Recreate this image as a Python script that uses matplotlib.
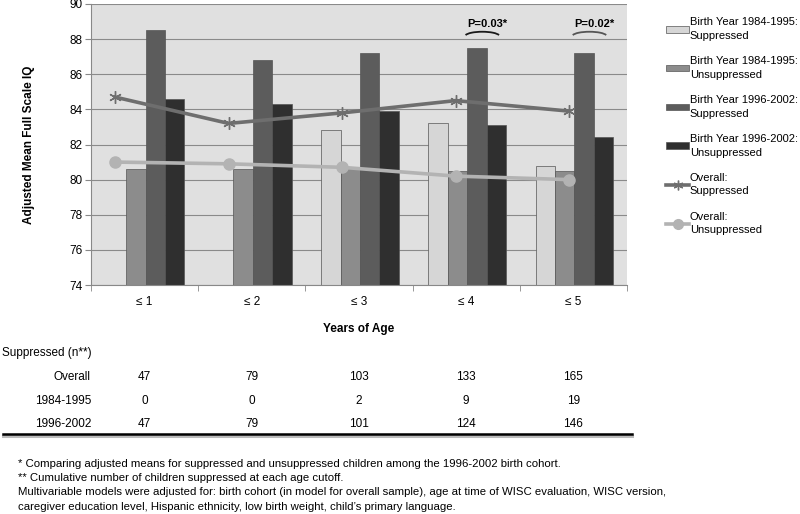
import numpy as np
import matplotlib.pyplot as plt
from matplotlib.patches import Arc, Patch
from matplotlib.lines import Line2D
import matplotlib.transforms as mtransforms

# Data
ages = ['≤ 1', '≤ 2', '≤ 3', '≤ 4', '≤ 5']
by8495_supp = [np.nan, np.nan, 82.8, 83.2, 80.8]
by8495_unsupp = [80.6, 80.6, 80.7, 80.5, 80.5]
by9602_supp = [88.5, 86.8, 87.2, 87.5, 87.2]
by9602_unsupp = [84.6, 84.3, 83.9, 83.1, 82.4]
overall_supp = [84.7, 83.2, 83.8, 84.5, 83.9]
overall_unsupp = [81.0, 80.9, 80.7, 80.2, 80.0]

p_labels = ['', '', '', 'P=0.03*', 'P=0.02*']
p_arc_colors = ['', '', '', '#1a1a1a', '#555555']

table_rows = ['Overall', '1984-1995', '1996-2002']
n_overall = [47, 79, 103, 133, 165]
n_8495 = [0, 0, 2, 9, 19]
n_9602 = [47, 79, 101, 124, 146]

footnotes = [
    '* Comparing adjusted means for suppressed and unsuppressed children among the 1996-2002 birth cohort.',
    '** Cumulative number of children suppressed at each age cutoff.',
    'Multivariable models were adjusted for: birth cohort (in model for overall sample), age at time of WISC evaluation, WISC version,',
    'caregiver education level, Hispanic ethnicity, low birth weight, child\u2019s primary language.',
]

plt.rcParams['font.family'] = ['Liberation Sans', 'DejaVu Sans']

W, H = 800, 514
fig = plt.figure(figsize=(8, 5.14), dpi=100)
ax = fig.add_axes([91 / W, 1 - 285 / H, 536 / W, 281 / H])
ax.set_facecolor('#e0e0e0')

x = np.arange(len(ages))
w = 0.181
bar_colors = ['#d6d6d6', '#8c8c8c', '#5c5c5c', '#2f2f2f']
series = [by8495_supp, by8495_unsupp, by9602_supp, by9602_unsupp]
for k, (vals, col) in enumerate(zip(series, bar_colors)):
    ax.bar(x + (k - 1.5) * w + 0.01, np.array(vals) - 74, bottom=74, width=w,
           color=col, edgecolor='#555555', linewidth=0.5, zorder=2)

# lines sit on their own horizontal scale, as in the original
line_x = -0.275 + 1.059 * x
ax.plot(line_x, overall_supp, color='#6e6e6e', lw=2.6, marker=(6, 2, 0),
        ms=9, mew=1.0, zorder=3)
ax.plot(line_x, overall_unsupp, color='#b3b3b3', lw=2.6, marker='o',
        ms=8, zorder=3)

# p-values with little brackets
for i, lab in enumerate(p_labels):
    if lab:
        ax.text(x[i] + 0.2, 88.88, lab, ha='center', va='center',
                fontsize=8, fontweight='bold', zorder=4)
        ax.add_patch(Arc((x[i] + 0.15, 88.17), 0.32, 0.5, theta1=20, theta2=160,
                         color=p_arc_colors[i], lw=1.3, zorder=4))

ax.set_ylim(74, 90)
ax.set_xlim(-0.5, 4.5)
ax.set_yticks(np.arange(74, 91, 2))
ax.yaxis.grid(True, color='#8a8a8a', lw=0.8, zorder=0)
ax.set_axisbelow(True)
ax.set_xticks(x)
ax.set_xticklabels(ages, fontsize=8.5)
ax.set_xticks(np.arange(-0.5, 5, 1), minor=True)
ax.tick_params(axis='x', which='major', length=0, pad=8)
ax.tick_params(axis='x', which='minor', length=4, color='#888888')
ax.tick_params(axis='y', length=4, color='#888888', labelsize=8.5, pad=2)
for s in ['top', 'right']:
    ax.spines[s].set_visible(False)
for s in ['left', 'bottom']:
    ax.spines[s].set_color('#888888')
ax.set_ylabel('Adjusted Mean Full Scale IQ', fontsize=8.5, fontweight='bold', labelpad=25)
ax.set_xlabel('Years of Age', fontsize=8.5, fontweight='bold', labelpad=11)

# legend
handles = [Patch(facecolor=c, edgecolor='#555555', lw=0.5) for c in bar_colors]
handles += [Line2D([], [], color='#6e6e6e', lw=2.6, marker=(6, 2, 0), ms=7, mew=1.0),
            Line2D([], [], color='#b3b3b3', lw=2.6, marker='o', ms=7)]
labels = ['Birth Year 1984-1995:\nSuppressed', 'Birth Year 1984-1995:\nUnsuppressed',
          'Birth Year 1996-2002:\nSuppressed', 'Birth Year 1996-2002:\nUnsuppressed',
          'Overall:\nSuppressed', 'Overall:\nUnsuppressed']
leg = fig.legend(handles, labels, loc='upper left', bbox_to_anchor=(662 / W, 1 - 13 / H),
                 frameon=False, fontsize=8, handlelength=2.0, handleheight=0.55,
                 handletextpad=0.1, labelspacing=1.37, borderaxespad=0)
for t in leg.get_texts():
    t.set_linespacing(1.45)

# table under the chart
tr = mtransforms.blended_transform_factory(ax.transData, fig.transFigure)
fig.text(2 / W, 1 - 353 / H, 'Suppressed (n**)', fontsize=8.5, va='center')
row_y = [377, 401, 424]
for lab, vals, yy in zip(table_rows, [n_overall, n_8495, n_9602], row_y):
    fig.text(91 / W, 1 - yy / H, lab, fontsize=8.5, ha='right', va='center')
    for i, v in enumerate(vals):
        ax.text(x[i], 1 - yy / H, str(v), transform=tr, fontsize=8.5,
                ha='center', va='center')
fig.add_artist(Line2D([3 / W, 632 / W], [1 - 435.5 / H, 1 - 435.5 / H], color='#bbbbbb', lw=2.2,
                      transform=fig.transFigure))
fig.add_artist(Line2D([3 / W, 632 / W], [1 - 434 / H, 1 - 434 / H], color='black', lw=1.8,
                      transform=fig.transFigure))

for j, t in enumerate(footnotes):
    fig.text(18 / W, 1 - (464 + 14.2 * j) / H, t, fontsize=8.2, va='center')

fig.savefig('out.png', dpi=100)
